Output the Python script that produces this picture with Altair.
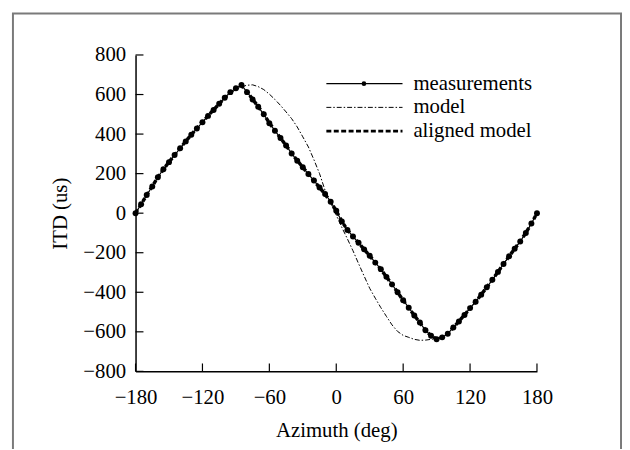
import altair as alt
import pandas as pd

azimuth = list(range(-180, 181, 5))

measurements = [
    0, 45, 92, 135, 182, 222, 258, 294, 328, 363,
    397, 428, 460, 492, 522, 553, 584, 612, 632, 648,
    612, 575, 538, 500, 455, 417, 380, 342, 302, 265,
    232, 198, 165, 130, 97, 58, 12, -42, -85, -118,
    -150, -183, -215, -250, -283, -322, -360, -400, -440, -478,
    -517, -553, -592, -620, -638, -628, -610, -578, -548, -515,
    -480, -448, -412, -375, -337, -297, -257, -218, -180, -143,
    -100, -52, 0,
]

model = [
    0, 45, 92, 135, 182, 222, 258, 294, 328, 363,
    397, 428, 460, 492, 522, 552, 580, 605, 625, 640,
    647, 649, 640, 625, 602, 575, 545, 512, 478, 436,
    386, 335, 270, 200, 115, 52, -10, -72, -130, -190,
    -255, -318, -380, -430, -478, -522, -565, -598, -618, -628,
    -638, -643, -642, -638, -634, -625, -608, -578, -548, -515,
    -480, -448, -412, -375, -337, -297, -257, -218, -180, -143,
    -100, -52, 0,
]

aligned_model = [
    0, 45, 92, 136, 182, 222, 259, 294, 329, 363,
    397, 429, 461, 492, 523, 553, 583, 610, 630, 645,
    614, 576, 539, 501, 456, 418, 380, 342, 303, 266,
    232, 198, 164, 130, 96, 57, 12, -42, -84, -118,
    -151, -183, -216, -250, -284, -322, -361, -400, -440, -479,
    -517, -554, -592, -620, -636, -627, -609, -578, -547, -515,
    -481, -448, -412, -375, -337, -297, -257, -218, -180, -142,
    -100, -52, 0,
]

series_names = ["measurements", "model", "aligned model"]
x_ticks = [-180, -120, -60, 0, 60, 120, 180]
y_ticks = [-800, -600, -400, -200, 0, 200, 400, 600, 800]

FONT = "Liberation Serif"
FS = 21
W, H = 406, 320

df_meas = pd.DataFrame({"az": azimuth, "itd": measurements})
df_model = pd.DataFrame({"az": azimuth, "itd": model})
df_aligned = pd.DataFrame({"az": azimuth, "itd": aligned_model})

xs = alt.Scale(domain=[-180, 180], nice=False, zero=False)
ys = alt.Scale(domain=[-800, 800], nice=False, zero=False)

x_axis = alt.Axis(values=x_ticks, format="d", ticks=False, tickSize=0,
                  labelPadding=15, titlePadding=13, grid=False,
                  labelOverlap=False, labelFlush=False)
y_axis = alt.Axis(values=y_ticks, format="d", ticks=False, tickSize=0,
                  labelPadding=10, titlePadding=12, grid=False,
                  labelOverlap=False, labelFlush=False)

x_enc = alt.X("az:Q", scale=xs, title="Azimuth (deg)", axis=x_axis)
y_enc = alt.Y("itd:Q", scale=ys, title="ITD (us)", axis=y_axis)

model_line = alt.Chart(df_model).mark_line(
    color="black", strokeWidth=1, strokeDash=[5, 2, 1.5, 2]
).encode(x=x_enc, y=y_enc)

meas_line = alt.Chart(df_meas).mark_line(
    color="black", strokeWidth=1.2
).encode(x=x_enc, y=y_enc)

meas_pts = alt.Chart(df_meas).mark_point(
    filled=True, color="black", size=36, opacity=1
).encode(x=x_enc, y=y_enc)

aligned_line = alt.Chart(df_aligned).mark_line(
    color="black", strokeWidth=3.5, strokeDash=[4, 3]
).encode(x=x_enc, y=y_enc)

# inward tick marks
xt = alt.Chart(pd.DataFrame({"az": x_ticks})).mark_rule(
    color="black", strokeWidth=1.2
).encode(x=x_enc, y=alt.value(H), y2=alt.value(H - 8))

yt = alt.Chart(pd.DataFrame({"itd": y_ticks})).mark_rule(
    color="black", strokeWidth=1.2
).encode(y=y_enc, x=alt.value(0), x2=alt.value(8))

# legend
leg_layers = []
leg_y = [29, 53, 77]
dashes = [None, [5, 2, 1.5, 2], [5, 2.5]]
widths = [1.2, 1, 3]
for name, ly, dash, sw in zip(series_names, leg_y, dashes, widths):
    d = pd.DataFrame({"label": [name]})
    kw = dict(color="black", strokeWidth=sw)
    if dash is not None:
        kw["strokeDash"] = dash
    leg_layers.append(
        alt.Chart(d).mark_rule(**kw).encode(
            x=alt.value(193), x2=alt.value(270), y=alt.value(ly)
        )
    )
    leg_layers.append(
        alt.Chart(d).mark_text(
            align="left", baseline="middle", font=FONT, fontSize=FS, color="black"
        ).encode(x=alt.value(281), y=alt.value(ly), text="label:N")
    )
leg_layers.append(
    alt.Chart(pd.DataFrame({"label": [series_names[0]]})).mark_point(
        filled=True, color="black", size=22, opacity=1
    ).encode(x=alt.value(231), y=alt.value(leg_y[0]))
)

frame = alt.Chart(pd.DataFrame({"label": ["frame"]})).mark_rect(
    filled=False, stroke="#7a7a7a", strokeWidth=2
).encode(
    x=alt.value(-124), x2=alt.value(491), y=alt.value(-42), y2=alt.value(420)
)

chart = alt.layer(
    frame, model_line, meas_line, meas_pts, aligned_line, xt, yt, *leg_layers
).properties(
    width=W, height=H,
    autosize=alt.AutoSizeParams(type="none"),
    padding={"left": 129, "top": 45, "right": 86, "bottom": 76},
).configure(
    background="white"
).configure_view(
    stroke=None
).configure_axis(
    domainColor="black", domainWidth=1.5,
    labelFont=FONT, labelFontSize=FS, labelColor="black",
    titleFont=FONT, titleFontSize=FS, titleColor="black", titleFontWeight="normal",
    labelOverlap=False,
)

chart.save("out.html", embed_options={"renderer": "svg", "actions": False})
